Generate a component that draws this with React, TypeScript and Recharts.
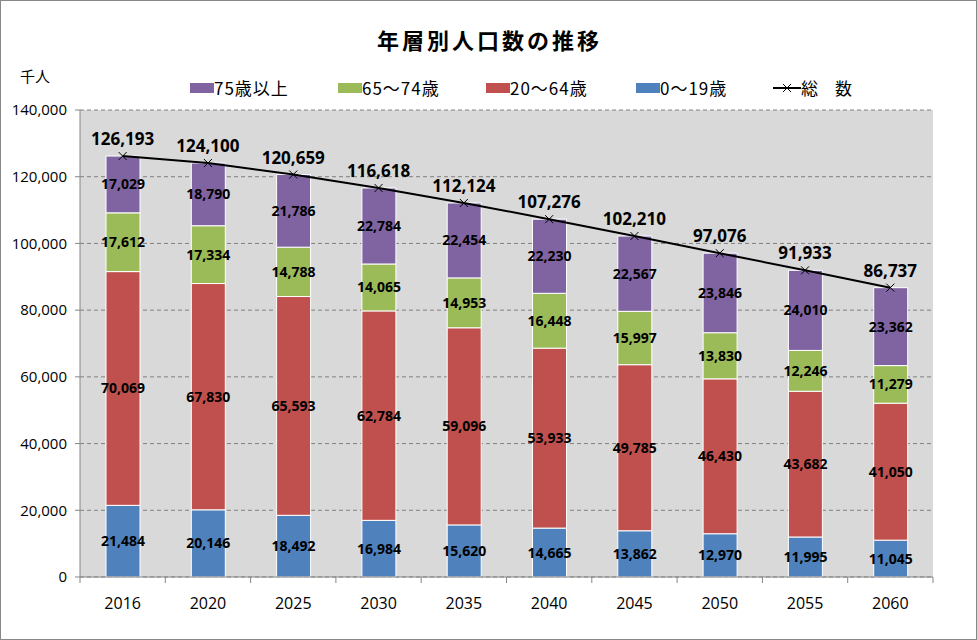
import React from 'react';
import { ComposedChart, Bar, Line, XAxis, YAxis, CartesianGrid, LabelList } from 'recharts';

const years = ['2016', '2020', '2025', '2030', '2035', '2040', '2045', '2050', '2055', '2060'];
const age0to19 = [21484, 20146, 18492, 16984, 15620, 14665, 13862, 12970, 11995, 11045];
const age20to64 = [70069, 67830, 65593, 62784, 59096, 53933, 49785, 46430, 43682, 41050];
const age65to74 = [17612, 17334, 14788, 14065, 14953, 16448, 15997, 13830, 12246, 11279];
const age75plus = [17029, 18790, 21786, 22784, 22454, 22230, 22567, 23846, 24010, 23362];
const totals = [126193, 124100, 120659, 116618, 112124, 107276, 102210, 97076, 91933, 86737];
const yTicks = [0, 20000, 40000, 60000, 80000, 100000, 120000, 140000];

const data = years.map((year, i) => ({
  year,
  a: age0to19[i],
  b: age20to64[i],
  c: age65to74[i],
  d: age75plus[i],
  total: totals[i],
}));

const fmt = (v: number) => v.toLocaleString('en-US');
const numFont = '"Open Sans", "Noto Sans", sans-serif';
const jpFont = '"Noto Sans CJK JP", sans-serif';
const band = (933 - 80) / years.length;

const XTick = (props: any) => {
  const { x, y, payload, index } = props;
  return (
    <g>
      <line x1={x - band / 2} y1={y} x2={x - band / 2} y2={y + 6} stroke="#868686" />
      {index === years.length - 1 && (
        <line x1={x + band / 2} y1={y} x2={x + band / 2} y2={y + 6} stroke="#868686" />
      )}
      <text x={x} y={y + 32} textAnchor="middle" fontSize={16} fontFamily={numFont} fill="#000">
        {payload.value}
      </text>
    </g>
  );
};

const Cross = (props: any) => {
  const { cx, cy } = props;
  return (
    <g>
      <line x1={cx - 4} y1={cy - 4} x2={cx + 4} y2={cy + 4} stroke="#000" strokeWidth={1} />
      <line x1={cx - 4} y1={cy + 4} x2={cx + 4} y2={cy - 4} stroke="#000" strokeWidth={1} />
    </g>
  );
};

const legendItems = [
  { name: '75歳以上', color: '#8064A2', left: 189 },
  { name: '65～74歳', color: '#9BBB59', left: 337 },
  { name: '20～64歳', color: '#C0504D', left: 485 },
  { name: '0～19歳', color: '#4F81BD', left: 635 },
];

const segLabel = { fontSize: 14, fontWeight: 700, fill: '#000', fontFamily: numFont };

const App = () => (
  <div
    style={{
      position: 'absolute',
      left: 0,
      top: 0,
      width: 977,
      height: 640,
      boxSizing: 'border-box',
      border: '1px solid #888',
      background: '#fff',
      fontFamily: jpFont,
    }}
  >
    <div
      style={{
        position: 'absolute',
        left: 0,
        width: 977,
        top: 22,
        textAlign: 'center',
        fontSize: 22,
        fontWeight: 700,
        letterSpacing: 3,
      }}
    >
      年層別人口数の推移
    </div>
    <div style={{ position: 'absolute', left: 19, top: 64, fontSize: 15 }}>千人</div>
    {legendItems.map((it) => (
      <div
        key={it.name}
        style={{ position: 'absolute', left: it.left, top: 74, display: 'flex', alignItems: 'center', fontSize: 17, letterSpacing: 1 }}
      >
        <span style={{ width: 24, height: 10, background: it.color, display: 'inline-block' }} />
        {it.name}
      </div>
    ))}
    <div style={{ position: 'absolute', left: 772, top: 74, display: 'flex', alignItems: 'center', fontSize: 17 }}>
      <svg width={28} height={12}>
        <line x1={0} y1={6} x2={28} y2={6} stroke="#000" strokeWidth={2} />
        <line x1={10} y1={2} x2={18} y2={10} stroke="#000" />
        <line x1={10} y1={10} x2={18} y2={2} stroke="#000" />
      </svg>
      総　数
    </div>
    <ComposedChart
      width={977}
      height={640}
      data={data}
      margin={{ top: 110, right: 44, left: 20, bottom: 33 }}
      style={{ position: 'absolute', left: -1, top: -1 }}
    >
      <CartesianGrid vertical={false} stroke="#808080" strokeDasharray="4 3" fill="#D9D9D9" />
      <XAxis
        dataKey="year"
        height={30}
        tickSize={0}
        tickMargin={0}
        tickLine={false}
        axisLine={{ stroke: '#868686' }}
        tick={<XTick />}
        interval={0}
      />
      <YAxis
        width={60}
        domain={[0, 140000]}
        ticks={yTicks}
        tickFormatter={fmt}
        tickSize={5}
        tickMargin={8}
        axisLine={{ stroke: '#868686' }}
        tickLine={{ stroke: '#868686' }}
        tick={{ fontSize: 15, fill: '#000', fontFamily: numFont }}
        interval={0}
      />
      <Bar dataKey="a" stackId="s" fill="#4F81BD" stroke="#fff" barSize={34} isAnimationActive={false}>
        <LabelList dataKey="a" position="center" formatter={fmt} style={segLabel} />
      </Bar>
      <Bar dataKey="b" stackId="s" fill="#C0504D" stroke="#fff" barSize={34} isAnimationActive={false}>
        <LabelList dataKey="b" position="center" formatter={fmt} style={segLabel} />
      </Bar>
      <Bar dataKey="c" stackId="s" fill="#9BBB59" stroke="#fff" barSize={34} isAnimationActive={false}>
        <LabelList dataKey="c" position="center" formatter={fmt} style={segLabel} />
      </Bar>
      <Bar dataKey="d" stackId="s" fill="#8064A2" stroke="#fff" barSize={34} isAnimationActive={false}>
        <LabelList dataKey="d" position="center" formatter={fmt} style={segLabel} />
      </Bar>
      <Line
        dataKey="total"
        type="linear"
        stroke="#000"
        strokeWidth={2}
        dot={<Cross />}
        activeDot={false}
        isAnimationActive={false}
      >
        <LabelList
          dataKey="total"
          position="top"
          offset={11}
          formatter={fmt}
          style={{ fontSize: 17, fontWeight: 700, fill: '#000', fontFamily: numFont }}
        />
      </Line>
    </ComposedChart>
  </div>
);

export default App;
